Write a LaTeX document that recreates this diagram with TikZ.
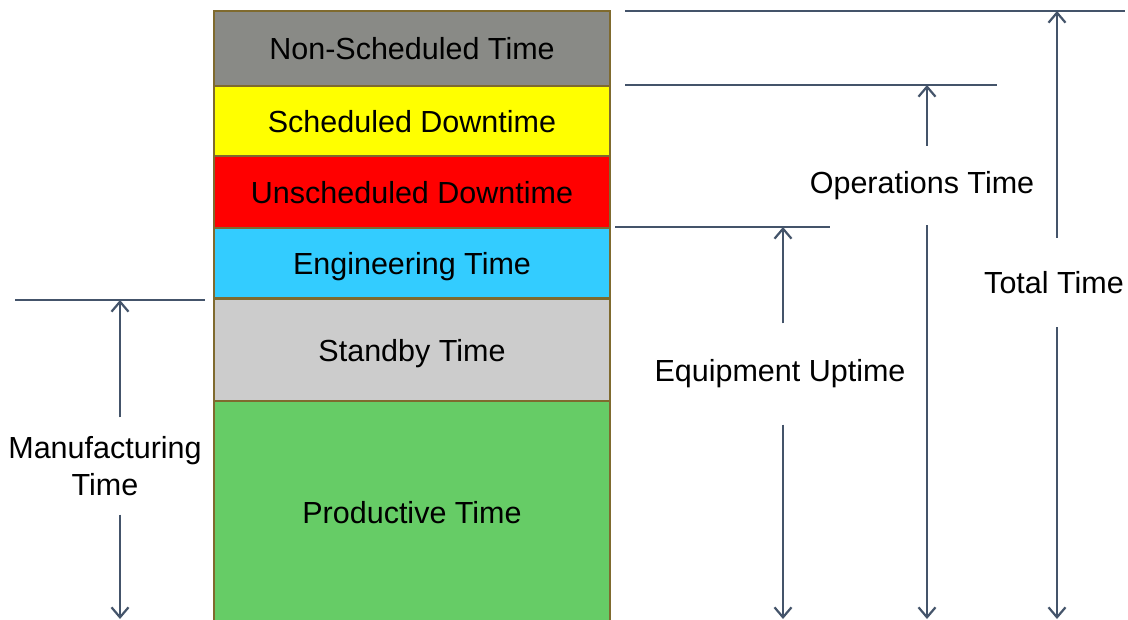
\documentclass[tikz,border=0pt]{standalone}
\usepackage{fontspec}
\setmainfont{Liberation Sans}
\usetikzlibrary{arrows.meta}

\definecolor{dimline}{HTML}{44546A}
\definecolor{bandedge}{HTML}{7F6A2E}
\definecolor{nonschedfill}{HTML}{898A86}
\definecolor{schedfill}{HTML}{FFFF00}
\definecolor{unschedfill}{HTML}{FF0000}
\definecolor{engfill}{HTML}{33CCFF}
\definecolor{standbyfill}{HTML}{CCCCCC}
\definecolor{prodfill}{HTML}{66CC66}

\begin{document}
\begin{tikzpicture}[x=1pt, y=-1pt, >={Straight Barb[length=10pt,width=17pt]},
    every node/.style={font=\fontsize{30.5}{37}\selectfont},
    band/.style={draw=bandedge, line width=2.2pt, minimum width=396pt, inner sep=0pt, text depth=0pt},
    dim/.style={dimline, line width=2.2pt},
    dimlabel/.style={align=center, inner sep=0pt}]
    \useasboundingbox[fill=white] (0,0) rectangle (1128,620);

    % stacked time bands
    \node[band, fill=prodfill, minimum height=224pt] (prod) at (412,512) {Productive Time};
    \node[band, fill=standbyfill, minimum height=102pt] (standby) at (412,350) {Standby Time};
    \node[band, fill=engfill, minimum height=70pt] (eng) at (412,263) {Engineering Time};
    \node[band, fill=unschedfill, minimum height=72pt] (unsched) at (412,192) {Unscheduled Downtime};
    \node[band, fill=schedfill, minimum height=70pt] (sched) at (412,121) {Scheduled Downtime};
    \node[band, fill=nonschedfill, minimum height=75pt] (nonsched) at (412,48.5) {Non-Scheduled Time};

    % reference lines
    \draw[dim] (15,300) -- (205,300);
    \draw[dim] (615,227) -- (830,227);
    \draw[dim] (625,85) -- (997,85);
    \draw[dim] (625,11) -- (1125,11);

    % arrow ends
    \coordinate (mfgTop) at (120,300);
    \coordinate (mfgBot) at (120,619);
    \coordinate (upTop) at (783,227);
    \coordinate (upBot) at (783,619);
    \coordinate (opsTop) at (927,85);
    \coordinate (opsBot) at (927,619);
    \coordinate (totTop) at (1057,11);
    \coordinate (totBot) at (1057,619);

    % labels
    \node[dimlabel, minimum height=97pt] (mfgLbl) at (105,466) {Manufacturing\\Time};
    \node[dimlabel, minimum height=101pt] (upLbl) at (780,374) {Equipment Uptime};
    \node[dimlabel, minimum height=79pt] (opsLbl) at (922,185.5) {Operations Time};
    \node[dimlabel, minimum height=89pt] (totLbl) at (1054,282.5) {Total Time};

    % dimension arrows
    \draw[dim,->] (mfgLbl.north -| mfgTop) -- (mfgTop);
    \draw[dim,->] (mfgLbl.south -| mfgBot) -- (mfgBot);
    \draw[dim,->] (upLbl.north -| upTop) -- (upTop);
    \draw[dim,->] (upLbl.south -| upBot) -- (upBot);
    \draw[dim,->] (opsLbl.north -| opsTop) -- (opsTop);
    \draw[dim,->] (opsLbl.south -| opsBot) -- (opsBot);
    \draw[dim,->] (totLbl.north -| totTop) -- (totTop);
    \draw[dim,->] (totLbl.south -| totBot) -- (totBot);
\end{tikzpicture}
\end{document}
